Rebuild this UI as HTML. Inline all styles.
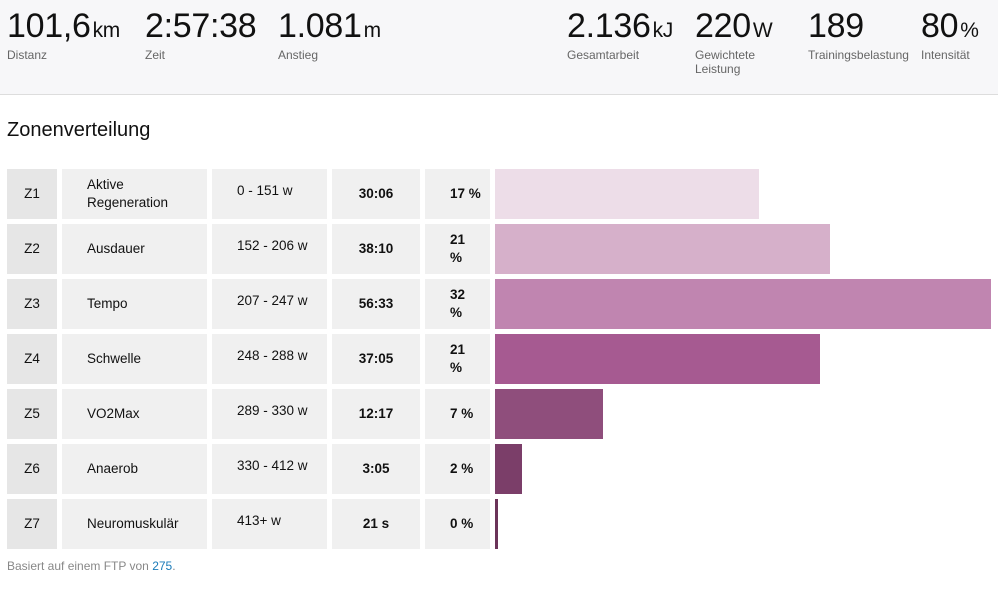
<!DOCTYPE html>
<html><head><meta charset="utf-8"><style>
*{margin:0;padding:0;box-sizing:border-box}
body{width:998px;height:592px;background:#fff;font-family:"Liberation Sans",sans-serif;color:#111;position:relative;overflow:hidden}
.hdr{position:absolute;left:0;top:0;width:998px;height:95px;background:#f7f7f9;border-bottom:1px solid #ddd}
.st{position:absolute;top:7px}
.num{font-size:34px;line-height:38px;height:38px;letter-spacing:-0.3px;white-space:nowrap}
.num span{font-size:21px;margin-left:2px;line-height:20px}
.lb{font-size:12px;color:#666;line-height:14px;margin-top:3px}
h2{position:absolute;left:7px;top:119px;font-size:20px;font-weight:normal}
.c{position:absolute;background:#f0f0f0;height:50px;font-size:13.5px;display:flex;align-items:center;line-height:18px}
.z{background:#e6e6e6;justify-content:center}
.b{font-weight:bold}
.bar{position:absolute;height:50px}
.foot{position:absolute;left:7px;top:559px;font-size:12px;color:#888}
.foot a{color:#1a7bb9}
</style></head><body>
<div class="hdr">
<div class="st" style="left:7px"><div class="num">101,6<span>km</span></div><div class="lb">Distanz</div></div>
<div class="st" style="left:145px"><div class="num">2:57:38</div><div class="lb">Zeit</div></div>
<div class="st" style="left:278px"><div class="num">1.081<span>m</span></div><div class="lb">Anstieg</div></div>
<div class="st" style="left:567px"><div class="num">2.136<span>kJ</span></div><div class="lb">Gesamtarbeit</div></div>
<div class="st" style="left:695px"><div class="num">220<span>W</span></div><div class="lb">Gewichtete<br>Leistung</div></div>
<div class="st" style="left:808px"><div class="num">189</div><div class="lb">Trainingsbelastung</div></div>
<div class="st" style="left:921px"><div class="num">80<span>%</span></div><div class="lb">Intensität</div></div>
</div>
<h2>Zonenverteilung</h2>
<div id="rows"></div>
<div class="foot">Basiert auf einem FTP von <a>275</a>.</div>
<script>
var d=[["Z1","Aktive<br>Regeneration","0 - 151 w","30:06","17 %",759,"#eddde8"],
["Z2","Ausdauer","152 - 206 w","38:10","21<br>%",830,"#d6b0ca"],
["Z3","Tempo","207 - 247 w","56:33","32<br>%",991,"#c085b0"],
["Z4","Schwelle","248 - 288 w","37:05","21<br>%",820,"#a65a91"],
["Z5","VO2Max","289 - 330 w","12:17","7 %",603,"#8f4e7c"],
["Z6","Anaerob","330 - 412 w","3:05","2 %",522,"#7b3e69"],
["Z7","Neuromuskulär","413+ w","21 s","0 %",498,"#6b3459"]];
var h="";
d.forEach(function(r,i){var y=169+i*55;
h+='<div class="c z" style="left:7px;top:'+y+'px;width:50px">'+r[0]+'</div>';
h+='<div class="c" style="left:62px;top:'+y+'px;width:145px;padding-left:25px">'+r[1]+'</div>';
h+='<div class="c" style="left:212px;top:'+y+'px;width:115px;padding-left:25px;align-items:flex-start;padding-top:13px">'+r[2]+'</div>';
h+='<div class="c b" style="left:332px;top:'+y+'px;width:88px;justify-content:center">'+r[3]+'</div>';
h+='<div class="c b" style="left:425px;top:'+y+'px;width:65px;padding-left:25px">'+r[4]+'</div>';
h+='<div class="bar" style="left:495px;top:'+y+'px;width:'+(r[5]-495)+'px;background:'+r[6]+'"></div>';});
document.getElementById("rows").innerHTML=h;
</script>
</body></html>
